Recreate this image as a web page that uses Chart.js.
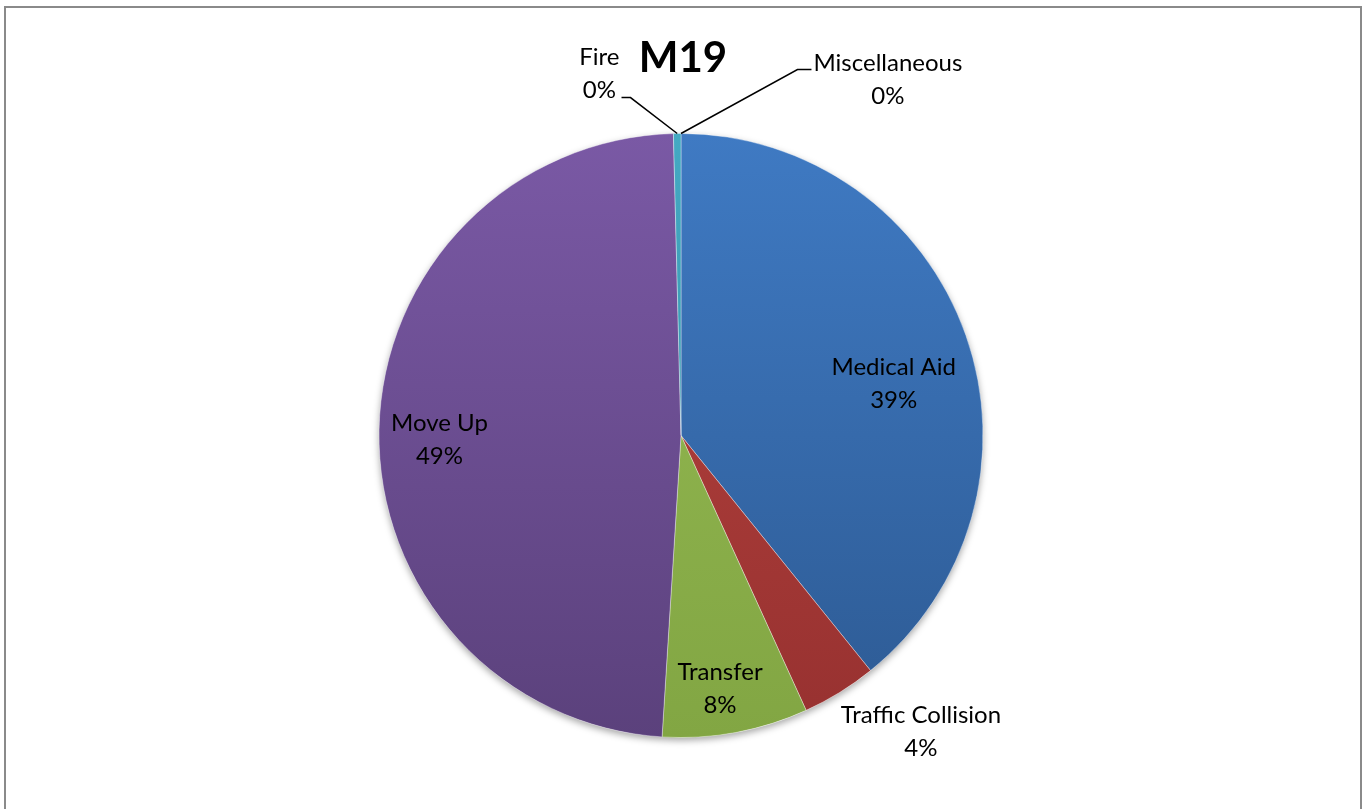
<!DOCTYPE html>
<html>
<head>
<meta charset="utf-8">
<script src="https://cdn.jsdelivr.net/npm/chart.js@4.4.0/dist/chart.umd.min.js"></script>
<style>
    html, body { margin: 0; padding: 0; background: #fff; overflow: hidden; }
    #frame {
        position: absolute; left: 4px; top: 6px; width: 1354px; height: 900px;
        border: 2px solid #8a8a8a; box-sizing: content-box;
    }
    #pieChart { position: absolute; left: 0; top: 0; }
</style>
</head>
<body>
<div id="frame"></div>
<canvas id="pieChart" width="1363" height="809"></canvas>
<script>
// data (share of calls, in percent)
const categories = ['Medical Aid', 'Traffic Collision', 'Transfer', 'Move Up', 'Fire', 'Miscellaneous'];
const values = [39.2, 4.0, 7.8, 48.6, 0.4, 0.0];
const chartTitle = 'M19';

// slice colours: lighter at the top, darker at the bottom
const topColors = ['#3f7ac3', '#b8443f', '#96bb54', '#7a59a5', '#44a9c3', '#f79646'];
const bottomColors = ['#2d5a93', '#973130', '#82a643', '#5b417c', '#32889e', '#d57a2e'];

// where each label sits: fraction of radius, shift from slice middle (degrees)
const labelPlace = [
    { r: 0.725, shift: 5.7 },
    { r: 1.263, shift: -7.3 },
    { r: 0.85, shift: 1.7 },
    { r: 0.80, shift: -2.2 },
    { r: 1.227, shift: -12, leader: 'left', leaderDy: 23.5, leaderLen: 9 },
    { r: 1.362, shift: 30.2, leader: 'right', leaderDy: -10.5, leaderLen: 14 }
];

function sliceFill(context) {
    const i = context.dataIndex;
    const area = context.chart.chartArea;
    if (!area) return topColors[i];
    const g = context.chart.ctx.createLinearGradient(0, area.top, 0, area.bottom);
    g.addColorStop(0, topColors[i]);
    g.addColorStop(1, bottomColors[i]);
    return g;
}

const shadowPlugin = {
    id: 'pieShadow',
    beforeDatasetsDraw(chart) {
        const arc = chart.getDatasetMeta(0).data[0];
        if (!arc) return;
        const p = arc.getProps(['x', 'y', 'outerRadius'], true);
        const ctx = chart.ctx;
        ctx.save();
        ctx.shadowColor = 'rgba(0,0,0,0.35)';
        ctx.shadowBlur = 7;
        ctx.shadowOffsetY = 3;
        ctx.fillStyle = '#fff';
        ctx.beginPath();
        ctx.arc(p.x, p.y, p.outerRadius, 0, Math.PI * 2);
        ctx.fill();
        ctx.restore();
    }
};

const labelPlugin = {
    id: 'sliceLabels',
    afterDatasetsDraw(chart) {
        const ctx = chart.ctx;
        const meta = chart.getDatasetMeta(0);
        const total = values.reduce((a, b) => a + b, 0);
        ctx.save();
        ctx.font = '24px Lato';
        ctx.fillStyle = '#000';
        ctx.textAlign = 'center';
        ctx.textBaseline = 'middle';
        meta.data.forEach((arc, i) => {
            const p = arc.getProps(['x', 'y', 'startAngle', 'endAngle', 'outerRadius'], true);
            const mid = (p.startAngle + p.endAngle) / 2;
            const place = labelPlace[i];
            const a = mid + place.shift * Math.PI / 180;
            const r = p.outerRadius * place.r;
            const lx = p.x + Math.cos(a) * r;
            const ly = p.y + Math.sin(a) * r;
            const pct = Math.round(values[i] / total * 100) + '%';
            ctx.fillText(categories[i], lx, ly - 16.5);
            ctx.fillText(pct, lx, ly + 16.5);

            if (place.leader) {
                const w = Math.max(ctx.measureText(categories[i]).width, ctx.measureText(pct).width);
                const y = ly + place.leaderDy;
                let hx, ex;
                if (place.leader === 'left') {
                    hx = lx + w / 2 + 2;
                    ex = hx + place.leaderLen;
                } else {
                    hx = lx - w / 2 - 2;
                    ex = hx - place.leaderLen;
                }
                const px = p.x + Math.cos(mid) * p.outerRadius;
                const py = p.y + Math.sin(mid) * p.outerRadius;
                ctx.strokeStyle = '#000';
                ctx.lineWidth = 1.5;
                ctx.beginPath();
                ctx.moveTo(hx, y);
                ctx.lineTo(ex, y);
                ctx.lineTo(px, py);
                ctx.stroke();
            }
        });

        ctx.font = 'bold 42px Lato';
        ctx.fillText(chartTitle, 683, 58);
        ctx.restore();
    }
};

const config = {
    type: 'pie',
    data: {
        labels: categories,
        datasets: [{
            data: values,
            backgroundColor: sliceFill,
            borderColor: 'rgba(255,255,255,0.35)',
            borderWidth: 1
        }]
    },
    options: {
        responsive: false,
        animation: false,
        layout: { padding: { top: 133, bottom: 71, left: 0, right: 1 } },
        plugins: {
            legend: { display: false },
            tooltip: { enabled: false },
            title: { display: false }
        }
    },
    plugins: [shadowPlugin, labelPlugin]
};

const ctx = document.getElementById('pieChart').getContext('2d');
const chart = new Chart(ctx, config);
</script>
</body>
</html>
